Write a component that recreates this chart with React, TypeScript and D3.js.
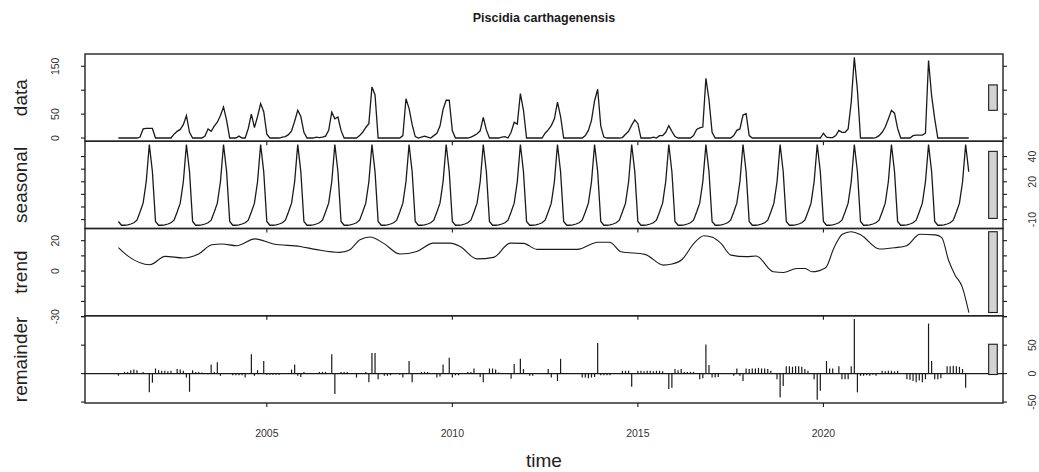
import React, { useEffect, useRef } from 'react'
import * as d3 from 'd3'

const title = 'Piscidia carthagenensis'
const startYear = 2001
const panelNames = ['data', 'seasonal', 'trend', 'remainder']

// monthly values, Jan 2001 .. Dec 2023, one row per year
const counts = [
  0, 0, 0, 0, 0, 0, 0, 2, 19, 20, 20, 20,
  0, 0, 0, 0, 0, 0, 8, 14, 18, 28, 47, 12,
  0, 0, 0, 0, 4, 19, 14, 25, 33, 47, 65, 37,
  0, 0, 0, 4, 0, 0, 20, 50, 22, 45, 72, 55,
  8, 0, 0, 0, 0, 2, 3, 7, 15, 35, 58, 45,
  12, 0, 0, 0, 2, 1, 2, 4, 16, 54, 40, 44,
  16, 0, 0, 0, 0, 0, 5, 12, 22, 30, 107, 90,
  0, 0, 0, 0, 0, 0, 0, 0, 5, 82, 62, 28,
  3, 0, 2, 4, 2, 0, 5, 10, 25, 60, 79, 79,
  15, 0, 0, 0, 0, 0, 2, 5, 9, 15, 43, 17,
  0, 0, 0, 0, 2, 3, 0, 12, 33, 29, 93, 58,
  0, 0, 0, 0, 0, 0, 10, 17, 26, 40, 75, 45,
  0, 0, 0, 0, 0, 0, 0, 5, 16, 37, 78, 102,
  25, 2, 0, 0, 0, 0, 0, 1, 8, 14, 27, 38,
  30, 0, 0, 0, 0, 2, 0, 5, 5, 12, 26, 14,
  3, 0, 0, 0, 0, 0, 5, 18, 21, 23, 125, 80,
  12, 0, 0, 0, 0, 0, 0, 5, 16, 19, 48, 51,
  5, 0, 0, 0, 0, 0, 0, 0, 0, 0, 0, 0,
  0, 0, 0, 0, 0, 0, 0, 0, 0, 0, 0, 0,
  10, 2, 1, 1, 5, 16, 12, 12, 19, 75, 169, 100,
  0, 0, 0, 0, 0, 1, 5, 12, 23, 40, 58, 52,
  20, 0, 0, 0, 0, 5, 6, 6, 6, 10, 162, 88,
  40, 0, 0, 0, 0, 0, 0, 0, 0, 0, 0, 0,
]

// periodic seasonal component, Jan..Dec
const seasonalPattern = [-11.5, -14.5, -14.5, -14.2, -13.5, -12.5, -10.5, -4, 3, 20, 49.6, 28]

// trend read at these points in time
const trendYears = [2001.00, 2001.27, 2001.85, 2002.26, 2002.75, 2003.16, 2003.52, 2003.79, 2004.19, 2004.68,
  2005.18, 2005.90, 2006.35, 2006.97, 2007.24, 2007.51, 2007.78, 2008.14, 2008.59, 2009.04,
  2009.49, 2009.94, 2010.21, 2010.66, 2011.11, 2011.56, 2011.92, 2012.28, 2013.37, 2013.92,
  2014.24, 2014.55, 2015.19, 2015.69, 2015.92, 2016.19, 2016.51, 2016.78, 2017.01, 2017.24,
  2017.51, 2017.92, 2018.19, 2018.65, 2018.92, 2019.28, 2019.51, 2019.69, 2020.06, 2020.28,
  2020.51, 2020.74, 2021.01, 2021.51, 2021.92, 2022.24, 2022.60, 2023.01, 2023.19, 2023.37,
  2023.55, 2023.74, 2023.92]
const trendValues = [15.5, 9.7, 4.2, 9.7, 8.6, 11.2, 17.3, 17.8, 16.7, 21.2,
  17.8, 16.2, 14.1, 12.3, 14.1, 20.6, 22.4, 18.4, 11.2, 12.9,
  18.4, 18.4, 16.2, 8.0, 9.0, 18.4, 18.2, 14.3, 14.3, 19.0,
  19.0, 12.7, 11.0, 3.9, 4.6, 7.6, 18.2, 23.3, 22.2, 18.2,
  10.5, 9.5, 9.9, -0.5, -0.9, 1.7, 1.7, -0.5, 2.2, 15.0,
  24.2, 25.9, 23.8, 14.5, 15.4, 16.7, 24.2, 23.8, 22.0, 7.3,
  -2.7, -10.4, -27.3]

const remainder = [
  -4, 0, 3, 3, 6, 7, 6, 0, 3, 0, -33, -16,
  9, 6, 5, 5, 4, 5, 0, 8, 7, 5, -7, -32,
  6, 3, 3, 2, 0, -1, 16, 3, 20, -4, 0, 0,
  0, -3, -3, -3, -3, -7, 0, 34, -4, 6, 0, 22,
  -2, -2, -2, -2, -2, 0, 0, 0, 7, 16, -4, -6,
  3, 0, 0, 0, 0, 3, 3, 3, 0, 34, -36, 0,
  3, 3, 3, 0, 0, -7, 0, 0, 3, -15, 36, 36,
  -10, 0, -4, -4, -3, 0, 0, -2, -7, 0, 22, -15,
  0, 0, 3, 3, 3, 0, 0, -7, -5, 16, 0, 28,
  -7, -3, -3, 0, 0, 3, 3, 9, 0, -6, -15, 0,
  9, 9, 7, 2, 0, 0, 0, -9, 17, 0, 26, 8,
  0, -4, -4, 0, 0, 0, 0, 8, -7, 0, -13, 26,
  0, 0, 0, 0, 0, 0, -7, -7, -8, -7, -6, 54,
  -3, -3, -3, -3, 0, 0, 0, 5, 5, 5, -23, 0,
  5, 5, 4, 5, 5, 4, 5, 5, 4, 0, -27, -25,
  8, 6, 8, 3, 3, 3, 3, 0, -10, -8, 51, 15,
  -7, -7, -6, 0, 0, 0, 0, -4, 9, -4, -13, 9,
  8, 9, 9, 10, 9, 9, 8, 5, 0, -10, -42, -22,
  13, 13, 12, 13, 13, 12, 8, 5, 0, -10, -46, -30,
  0, 22, 9, 9, 0, 13, -10, -10, -10, 13, 96, -33,
  -4, -4, -3, -4, -2, -4, 0, 5, 4, 5, 5, 4,
  5, 0, 0, -10, -11, -13, -15, -12, -15, -10, 88, 22,
  -10, -10, -8, 0, 13, 13, 14, 13, 12, 8, -25, 0,
]

const yearTicks = [2005, 2010, 2015, 2020]
const yTicks = [[0, 50, 100, 150], [-10, 0, 10, 20, 30, 40], [-30, -20, -10, 0, 10, 20], [-50, 0, 50, 100]]
const yLabels = [[0, 50, 150], [-10, 20, 40], [-30, 0, 20], [-50, 0, 50]]

const font = '"Liberation Sans", Arial, Helvetica, sans-serif'

export default function App() {
  const ref = useRef<SVGSVGElement>(null)

  useEffect(() => {
    const svg = d3.select(ref.current)
    svg.selectAll('*').remove()

    const left = 85, right = 1003, bottom = 403
    const tops = [54, 141.25, 228.5, 315.75]
    const ph = 87.25
    const ink = '#1a1a1a'

    const x = d3.scaleLinear().domain([2000.1, 2024.84]).range([left, right])
    const t = (i: number) => startYear + i / 12

    const seasonal = counts.map((_, i) => seasonalPattern[i % 12])
    const series = [counts, seasonal, trendValues, remainder]

    const ys = series.map((vals, p) => {
      const [lo, hi] = d3.extent(vals) as [number, number]
      const pad = (hi - lo) * 0.04
      return d3.scaleLinear().domain([lo - pad, hi + pad]).range([tops[p] + ph, tops[p]])
    })
    const ranges = series.map(v => d3.extent(v) as [number, number])
    const mx = d3.min(ranges, r => r[1] - r[0]) as number

    // title
    svg.append('text')
      .attr('x', (left + right) / 2).attr('y', 22)
      .attr('text-anchor', 'middle')
      .attr('font-family', font).attr('font-size', 12.5).attr('font-weight', 'bold')
      .attr('fill', ink)
      .text(title)

    const monthLine = (ysc: d3.ScaleLinear<number, number>) =>
      d3.line<number>().x((_, i) => x(t(i))).y(d => ysc(d))

    // data + seasonal
    ;[0, 1].forEach(p => {
      svg.append('path')
        .datum(series[p])
        .attr('d', monthLine(ys[p]))
        .attr('fill', 'none').attr('stroke', ink).attr('stroke-width', 1.3)
    })

    // trend
    svg.append('path')
      .datum(trendYears.map((yr, i) => [yr, trendValues[i]] as [number, number]))
      .attr('d', d3.line<[number, number]>().x(d => x(d[0])).y(d => ys[2](d[1])).curve(d3.curveMonotoneX))
      .attr('fill', 'none').attr('stroke', ink).attr('stroke-width', 1.1)

    // remainder as vertical bars with zero line
    svg.append('line')
      .attr('x1', left).attr('x2', right)
      .attr('y1', ys[3](0)).attr('y2', ys[3](0))
      .attr('stroke', ink).attr('stroke-width', 1.1)
    svg.append('g').selectAll('line')
      .data(remainder)
      .join('line')
      .attr('x1', (_, i) => x(t(i))).attr('x2', (_, i) => x(t(i)))
      .attr('y1', ys[3](0)).attr('y2', d => ys[3](d))
      .attr('stroke', ink).attr('stroke-width', 1.2)

    // range bars
    const span = x.domain()[1] - x.domain()[0]
    const dx = span / 64
    series.forEach((_, p) => {
      const mid = (ranges[p][0] + ranges[p][1]) / 2
      const x0 = x(x.domain()[1] - dx), x1 = x(x.domain()[1] - 0.4 * dx)
      svg.append('rect')
        .attr('x', x0).attr('width', x1 - x0)
        .attr('y', ys[p](mid + mx / 2))
        .attr('height', ys[p](mid - mx / 2) - ys[p](mid + mx / 2))
        .attr('fill', '#d3d3d3').attr('stroke', ink).attr('stroke-width', 1.1)
    })

    // boxes, ticks, labels
    tops.forEach((top, p) => {
      svg.append('rect')
        .attr('x', left).attr('y', top).attr('width', right - left).attr('height', ph)
        .attr('fill', 'none').attr('stroke', '#222').attr('stroke-width', 1.4)

      const g = svg.append('g')
      yTicks[p].forEach(v => {
        const yy = ys[p](v)
        g.append('line').attr('x1', left - 4).attr('x2', left).attr('y1', yy).attr('y2', yy)
          .attr('stroke', ink).attr('stroke-width', 1.1)
        g.append('line').attr('x1', right).attr('x2', right + 4).attr('y1', yy).attr('y2', yy)
          .attr('stroke', ink).attr('stroke-width', 1.1)
      })
      const onRight = p % 2 === 1
      yLabels[p].forEach(v => {
        const yy = ys[p](v)
        const xx = onRight ? 1036 : 59.5
        g.append('text')
          .attr('x', xx).attr('y', yy)
          .attr('transform', `rotate(-90,${xx},${yy})`)
          .attr('text-anchor', 'middle')
          .attr('font-family', font).attr('font-size', 10.5).attr('fill', '#333')
          .text(String(v))
      })

      yearTicks.forEach(yr => {
        g.append('line').attr('x1', x(yr)).attr('x2', x(yr))
          .attr('y1', top + ph).attr('y2', top + ph + 4)
          .attr('stroke', ink).attr('stroke-width', 1.1)
      })

      const cy = top + ph / 2
      svg.append('text')
        .attr('x', 26.5).attr('y', cy)
        .attr('transform', `rotate(-90,26.5,${cy})`)
        .attr('text-anchor', 'middle')
        .attr('font-family', font).attr('font-size', 19).attr('fill', '#222')
        .text(panelNames[p])
    })

    yearTicks.forEach(yr => {
      svg.append('text')
        .attr('x', x(yr)).attr('y', bottom + 34)
        .attr('text-anchor', 'middle')
        .attr('font-family', font).attr('font-size', 10.5).attr('fill', '#333')
        .text(String(yr))
    })

    svg.append('text')
      .attr('x', (left + right) / 2).attr('y', 467)
      .attr('text-anchor', 'middle')
      .attr('font-family', font).attr('font-size', 19).attr('fill', '#222')
      .text('time')
  }, [])

  return (
    <svg ref={ref} width={1039} height={472}
      style={{ position: 'absolute', left: 0, top: 0, background: '#fff', display: 'block' }} />
  )
}
